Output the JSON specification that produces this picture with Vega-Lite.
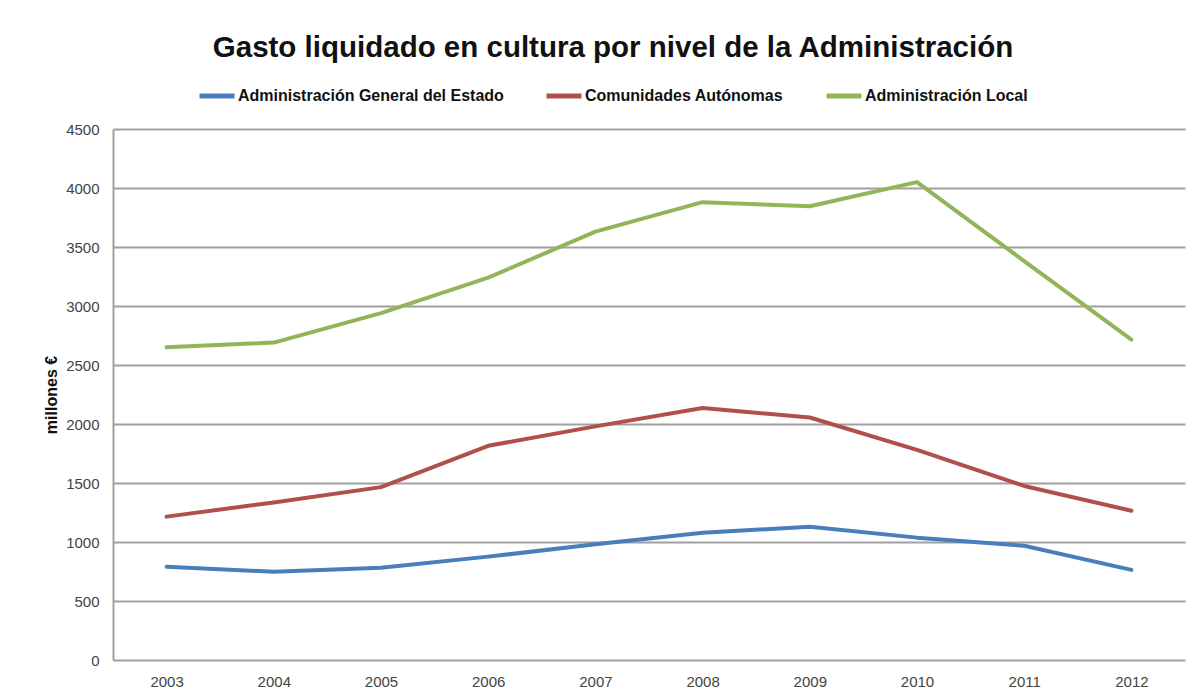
{
  "$schema": "https://vega.github.io/schema/vega-lite/v6.json",
  "autosize": {"type": "none"},
  "width": 1072,
  "height": 531,
  "padding": {"left": 113, "top": 129, "right": 7, "bottom": 33},
  "background": "white",
  "title": {
    "text": "Gasto liquidado en cultura por nivel de la Administración",
    "font": "Liberation Sans",
    "fontSize": 29.5,
    "fontWeight": "bold",
    "color": "#111",
    "anchor": "middle",
    "dx": -36,
    "offset": 13
  },
  "data": {
    "values": [
      {"year": "2003", "nivel": "Administración General del Estado", "gasto": 790},
      {"year": "2004", "nivel": "Administración General del Estado", "gasto": 748},
      {"year": "2005", "nivel": "Administración General del Estado", "gasto": 781},
      {"year": "2006", "nivel": "Administración General del Estado", "gasto": 876},
      {"year": "2007", "nivel": "Administración General del Estado", "gasto": 980},
      {"year": "2008", "nivel": "Administración General del Estado", "gasto": 1078},
      {"year": "2009", "nivel": "Administración General del Estado", "gasto": 1129},
      {"year": "2010", "nivel": "Administración General del Estado", "gasto": 1037},
      {"year": "2011", "nivel": "Administración General del Estado", "gasto": 968},
      {"year": "2012", "nivel": "Administración General del Estado", "gasto": 764},
      {"year": "2003", "nivel": "Comunidades Autónomas", "gasto": 1215},
      {"year": "2004", "nivel": "Comunidades Autónomas", "gasto": 1335},
      {"year": "2005", "nivel": "Comunidades Autónomas", "gasto": 1465},
      {"year": "2006", "nivel": "Comunidades Autónomas", "gasto": 1815},
      {"year": "2007", "nivel": "Comunidades Autónomas", "gasto": 1980},
      {"year": "2008", "nivel": "Comunidades Autónomas", "gasto": 2135},
      {"year": "2009", "nivel": "Comunidades Autónomas", "gasto": 2055},
      {"year": "2010", "nivel": "Comunidades Autónomas", "gasto": 1780},
      {"year": "2011", "nivel": "Comunidades Autónomas", "gasto": 1475},
      {"year": "2012", "nivel": "Comunidades Autónomas", "gasto": 1265},
      {"year": "2003", "nivel": "Administración Local", "gasto": 2650},
      {"year": "2004", "nivel": "Administración Local", "gasto": 2690},
      {"year": "2005", "nivel": "Administración Local", "gasto": 2940},
      {"year": "2006", "nivel": "Administración Local", "gasto": 3240},
      {"year": "2007", "nivel": "Administración Local", "gasto": 3630},
      {"year": "2008", "nivel": "Administración Local", "gasto": 3880},
      {"year": "2009", "nivel": "Administración Local", "gasto": 3845},
      {"year": "2010", "nivel": "Administración Local", "gasto": 4050},
      {"year": "2011", "nivel": "Administración Local", "gasto": 3380},
      {"year": "2012", "nivel": "Administración Local", "gasto": 2715}
    ]
  },
  "mark": {"type": "line", "strokeWidth": 4, "strokeCap": "round", "strokeJoin": "round"},
  "encoding": {
    "x": {
      "field": "year",
      "type": "ordinal",
      "title": null,
      "scale": {"padding": 0.5},
      "axis": {
        "labelAngle": 0,
        "ticks": false,
        "grid": false,
        "domain": false,
        "labelPadding": 14,
        "labelFontSize": 15,
        "labelFont": "Liberation Sans",
        "labelColor": "#444"
      }
    },
    "y": {
      "field": "gasto",
      "type": "quantitative",
      "title": "millones €",
      "scale": {"domain": [0, 4500], "nice": false},
      "axis": {
        "values": [0, 500, 1000, 1500, 2000, 2500, 3000, 3500, 4000, 4500],
        "format": "d",
        "ticks": false,
        "domain": true,
        "domainColor": "#a0a0a0",
        "domainWidth": 2,
        "gridColor": "#a0a0a0",
        "gridWidth": 2,
        "labelPadding": 14,
        "labelFontSize": 15,
        "labelFont": "Liberation Sans",
        "labelColor": "#444",
        "titleFont": "Liberation Sans",
        "titleFontSize": 16,
        "titleFontWeight": "bold",
        "titleColor": "#111",
        "titlePadding": 6
      }
    },
    "color": {
      "field": "nivel",
      "type": "nominal",
      "scale": {
        "domain": ["Administración General del Estado", "Comunidades Autónomas", "Administración Local"],
        "range": ["#4a7ebb", "#b0504c", "#93b55a"]
      },
      "legend": {
        "title": null,
        "orient": "none",
        "direction": "horizontal",
        "legendX": 84,
        "legendY": -53,
        "symbolType": "stroke",
        "symbolSize": 1225,
        "symbolStrokeWidth": 5,
        "labelOffset": 1,
        "columnPadding": 32,
        "labelFont": "Liberation Sans",
        "labelFontSize": 16,
        "labelFontWeight": "bold",
        "labelColor": "#111",
        "labelLimit": 400
      }
    }
  },
  "config": {"view": {"stroke": null}}
}
